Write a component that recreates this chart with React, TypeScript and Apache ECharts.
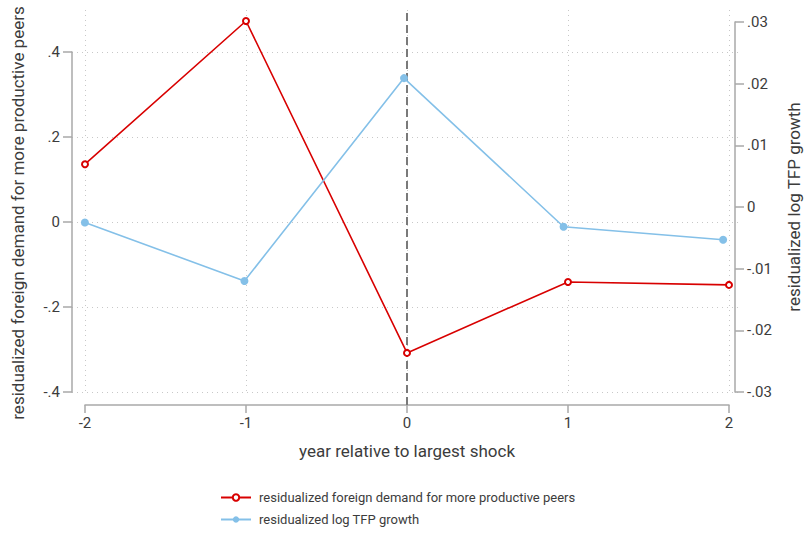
import React, { useEffect, useRef } from "react";
import * as echarts from "echarts";

const years = [-2, -1, 0, 1, 2];
const foreignDemand = [0.136, 0.473, -0.308, -0.141, -0.148];
const tfpGrowth = [-0.0025, -0.012, 0.0209, -0.0032, -0.0053];
const shockYear = 0;

const FONT = "'Roboto', sans-serif";
const AXIS = "#a9a9a9";
const TEXT = "#3c3c3c";
const RED = "#d80000";
const BLUE = "#84c0e8";

const fmt = (v: number) => {
  if (Math.abs(v) < 1e-9) return "0";
  const s = String(parseFloat(v.toFixed(3)));
  return s.replace(/^(-?)0\./, "$1.");
};

// grid geometry: data x from 85 to 729 (161 px per year); wide grids from 72 to 741
const pxPerYear = 161;
const wideMin = -2 - 13 / pxPerYear;
const wideMax = 2 + 12 / pxPerYear;

export default function App() {
  const ref = useRef<HTMLDivElement>(null);
  useEffect(() => {
    if (!ref.current) return;
    const chart = echarts.init(ref.current, undefined, { renderer: "svg" });
    const pairs = (ys: number[]) => years.map((x, i) => [x, ys[i]]);
    chart.setOption({
      animation: false,
      backgroundColor: "#fff",
      textStyle: { fontFamily: FONT },
      grid: [
        { left: 72, right: 69, top: 52, bottom: 143 },
        { left: 72, right: 69, top: 22, bottom: 143 },
        { left: 85, right: 81, top: 10, bottom: 143 },
      ],
      xAxis: [
        { gridIndex: 0, type: "value", min: wideMin, max: wideMax, show: false },
        { gridIndex: 1, type: "value", min: wideMin, max: wideMax, show: false },
        {
          gridIndex: 2,
          type: "value",
          min: -2,
          max: 2,
          interval: 1,
          offset: 13,
          axisLine: { onZero: false, lineStyle: { color: AXIS, width: 1.5 } },
          axisTick: { length: 8, lineStyle: { color: AXIS, width: 1.5 } },
          axisLabel: { color: TEXT, fontSize: 15, margin: 10, fontFamily: FONT, formatter: fmt },
          splitLine: { show: true, lineStyle: { type: [1, 4], color: "#c8c8c8", width: 1 } },
          name: "year relative to largest shock",
          nameLocation: "middle",
          nameGap: 37,
          nameTextStyle: { fontSize: 17, color: TEXT, fontFamily: FONT },
        },
      ],
      yAxis: [
        {
          gridIndex: 0,
          type: "value",
          position: "left",
          min: -0.4,
          max: 0.4,
          interval: 0.2,
          axisLine: { show: true, onZero: false, lineStyle: { color: AXIS, width: 1.5 } },
          axisTick: { show: true, length: 9, lineStyle: { color: AXIS, width: 1.5 } },
          axisLabel: { color: TEXT, fontSize: 15, margin: 12, fontFamily: FONT, formatter: fmt },
          splitLine: { show: true, lineStyle: { type: [1, 4], color: "#c8c8c8", width: 1 } },
          name: "residualized foreign demand for more productive peers",
          nameLocation: "middle",
          nameRotate: 90,
          nameGap: 46,
          nameTextStyle: { fontSize: 17, color: TEXT, fontFamily: FONT, padding: [0, 0, 0, 18] },
        },
        {
          gridIndex: 1,
          type: "value",
          position: "right",
          min: -0.03,
          max: 0.03,
          interval: 0.01,
          axisLine: { show: true, onZero: false, lineStyle: { color: AXIS, width: 1.5 } },
          axisTick: { show: true, length: 9, lineStyle: { color: AXIS, width: 1.5 } },
          axisLabel: { color: TEXT, fontSize: 15, margin: 12, fontFamily: FONT, formatter: fmt },
          splitLine: { show: false },
          name: "residualized log TFP growth",
          nameLocation: "middle",
          nameRotate: 90,
          nameGap: 50,
          nameTextStyle: { fontSize: 17, color: TEXT, fontFamily: FONT },
        },
        { gridIndex: 2, type: "value", min: 0, max: 1, show: false },
      ],
      legend: {
        orient: "vertical",
        left: 215,
        top: 486,
        itemWidth: 30,
        itemHeight: 8,
        itemGap: 9,
        data: [
          "residualized foreign demand for more productive peers",
          "residualized log TFP growth",
        ],
        textStyle: { fontSize: 13, color: TEXT, fontFamily: FONT, padding: [0, 0, 0, 3] },
      },
      series: [
        {
          name: "shock",
          type: "line",
          xAxisIndex: 2,
          yAxisIndex: 2,
          data: [
            [shockYear, -13 / 382],
            [shockYear, 1],
          ],
          symbol: "none",
          clip: false,
          silent: true,
          lineStyle: { color: "#7a7a7a", width: 2, type: [8, 4] },
          z: 1,
        },
        {
          name: "residualized foreign demand for more productive peers",
          type: "line",
          xAxisIndex: 0,
          yAxisIndex: 0,
          data: pairs(foreignDemand),
          clip: false,
          symbol: "emptyCircle",
          symbolSize: 6,
          color: RED,
          lineStyle: { color: RED, width: 1.6 },
          itemStyle: { color: RED, borderColor: RED, borderWidth: 1.5 },
          z: 3,
        },
        {
          name: "residualized log TFP growth",
          type: "line",
          xAxisIndex: 1,
          yAxisIndex: 1,
          data: pairs(tfpGrowth),
          clip: false,
          symbol: "circle",
          symbolSize: 8,
          color: BLUE,
          lineStyle: { color: BLUE, width: 1.6 },
          itemStyle: { color: BLUE },
          z: 3,
        },
      ],
    });
    return () => chart.dispose();
  }, []);
  return <div ref={ref} style={{ width: 810, height: 535, position: "absolute", left: 0, top: 0 }} />;
}
